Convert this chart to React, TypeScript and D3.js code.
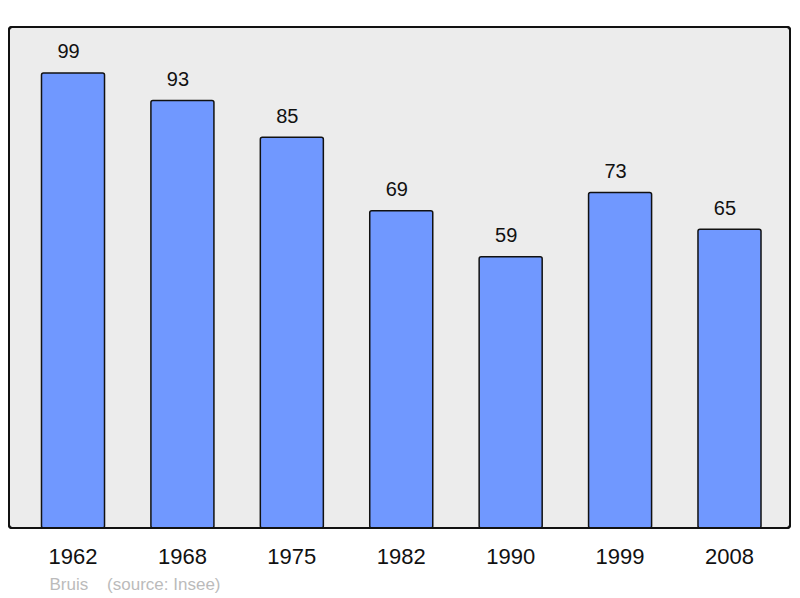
import React from "react";
import * as d3 from "d3";

const years = ["1962", "1968", "1975", "1982", "1990", "1999", "2008"];
const population = [99, 93, 85, 69, 59, 73, 65];
const caption = "Bruis    (source: Insee)";

export default function App() {
  const W = 800, H = 598;
  const frame = { x: 9, y: 27, w: 781, h: 501 };
  const x = d3.scaleBand<string>().domain(years).range([18.3, 784.2]).paddingInner(0.424).paddingOuter(0.212);
  const y = d3.scaleLinear().domain([0, 109]).range([528, 27]);
  return (
    <svg width={W} height={H} style={{ position: "absolute", left: 0, top: 0 }} fontFamily="'Liberation Sans', Arial, sans-serif">
      <rect x={frame.x} y={frame.y} width={frame.w} height={frame.h} rx={3} fill="#ececec" stroke="#111" strokeWidth={2} />
      {years.map((yr, i) => (
        <g key={yr}>
          <rect x={x(yr)!} y={y(population[i])} width={x.bandwidth()} height={y(0) - y(population[i])} rx={2} fill="#7098ff" stroke="#111" strokeWidth={1.5} />
          <text x={x(yr)! + x.bandwidth() / 2 - 4.5} y={y(population[i]) - 14.7} textAnchor="middle" fontSize={20} fill="#111">{population[i]}</text>
          <text x={x(yr)! + x.bandwidth() / 2} y={564} textAnchor="middle" fontSize={22} fill="#111">{yr}</text>
        </g>
      ))}
      <rect x={frame.x} y={frame.y} width={frame.w} height={frame.h} rx={3} fill="none" stroke="#111" strokeWidth={2} />
      <text x={49.5} y={590} fontSize={17} fill="#bbbbbb" style={{ whiteSpace: "pre" }}>{caption}</text>
    </svg>
  );
}
